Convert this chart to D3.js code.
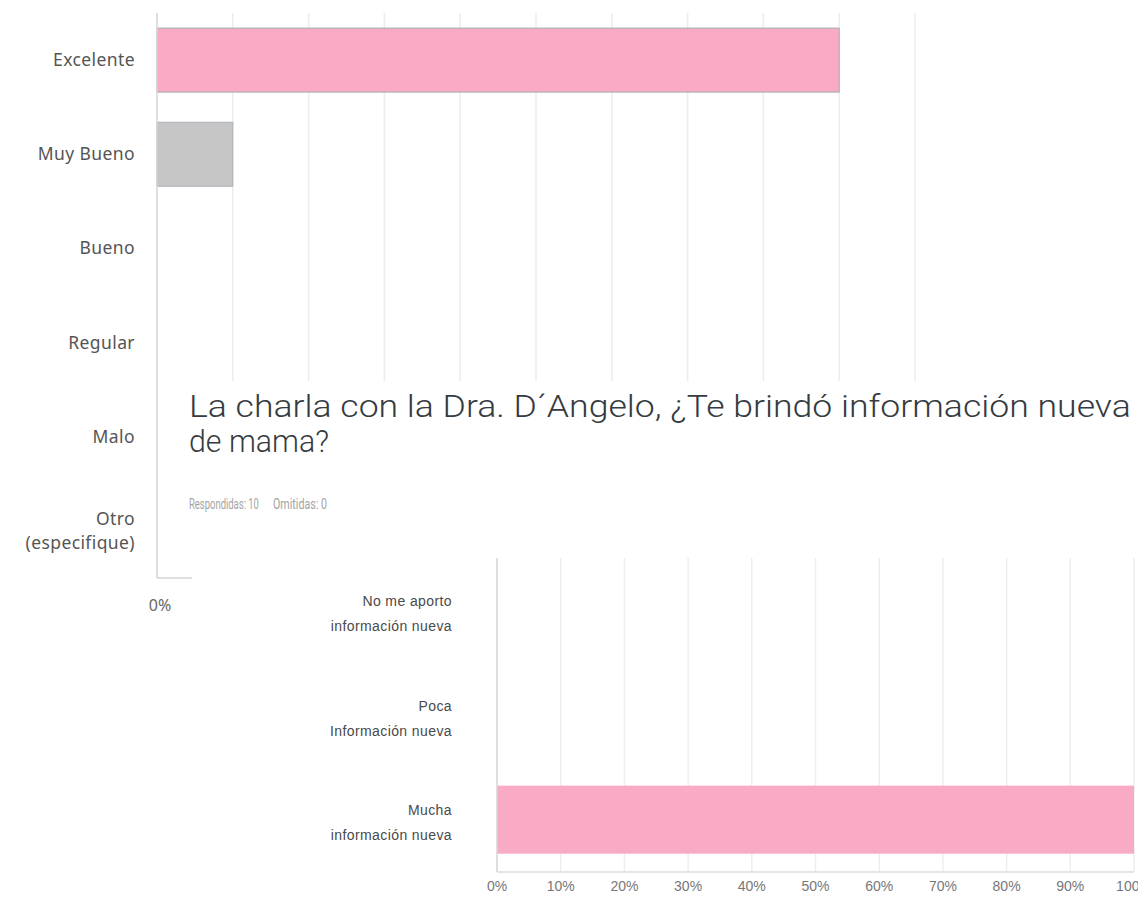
<!DOCTYPE html>
<html>
<head>
<meta charset="utf-8">
<script src="https://cdn.jsdelivr.net/npm/d3@7"></script>
<style>
  body { margin: 0; background: #fff; }
  svg { display: block; }
</style>
</head>
<body>
<svg id="chart" width="1138" height="904"></svg>
<script>
// first survey question (background screenshot)
const topCategories = ["Excelente", "Muy Bueno", "Bueno", "Regular", "Malo", "Otro\n(especifique)"];
const topValues = [90, 10, 0, 0, 0, 0];
const topColors = ["#f9aac5", "#c6c6c6", "#f9aac5", "#f9aac5", "#f9aac5", "#f9aac5"];
const topTicks = [0, 10, 20, 30, 40, 50, 60, 70, 80, 90, 100];

// second survey question (overlay screenshot)
const titleLines = ["La charla con la Dra. D\u00b4Angelo, \u00bfTe brind\u00f3 informaci\u00f3n nueva", "de mama?"];
const answered = "Respondidas: 10";
const skipped = "Omitidas: 0";
const bottomCategories = ["No me aporto\ninformaci\u00f3n nueva", "Poca\nInformaci\u00f3n nueva", "Mucha\ninformaci\u00f3n nueva"];
const bottomValues = [0, 0, 100];
const bottomTicks = [0, 10, 20, 30, 40, 50, 60, 70, 80, 90, 100];

const pct = d => d + "%";
const svg = d3.select("#chart");

// squeeze a text horizontally so it is as wide as the screenshot's condensed font
function condense(sel, x, y, width) {
	let w = sel.node().getComputedTextLength();
	sel.attr("transform", "translate(" + x + "," + y + ") scale(" + (width / w) + ",1)");
}

// ---------- top chart ----------
let xTop = d3.scaleLinear().domain([0, 100]).range([157, 915]);
let yTop = d3.scaleBand().domain(topCategories).range([13, 578])
	.paddingInner(0.32).paddingOuter(0.16);

let gTop = svg.append("g");

gTop.selectAll("line.grid")
	.data(topTicks.slice(1))
	.enter().append("line")
	.attr("class", "grid")
	.attr("x1", d => xTop(d)).attr("x2", d => xTop(d))
	.attr("y1", 13).attr("y2", 578)
	.attr("stroke", "#ececec").attr("stroke-width", 1.5);

gTop.selectAll("rect")
	.data(topValues)
	.enter().append("rect")
	.attr("x", xTop(0))
	.attr("y", (d, i) => yTop(topCategories[i]))
	.attr("height", yTop.bandwidth())
	.attr("width", d => xTop(d) - xTop(0))
	.attr("fill", (d, i) => topColors[i])
	.attr("stroke", (d, i) => i == 0 ? "#9fb0b0" : "#a9b2b8")
	.attr("stroke-width", d => d > 0 ? 1 : 0);

// axis lines
gTop.append("line")
	.attr("x1", xTop(0)).attr("x2", xTop(0))
	.attr("y1", 13).attr("y2", 578)
	.attr("stroke", "#d6d6d6").attr("stroke-width", 1.5);
gTop.append("line")
	.attr("x1", xTop(0)).attr("x2", 200)
	.attr("y1", 578).attr("y2", 578)
	.attr("stroke", "#d6d6d6").attr("stroke-width", 1.5);

let topLabels = gTop.selectAll("text.cat")
	.data(topCategories)
	.enter().append("text")
	.attr("class", "cat")
	.attr("text-anchor", "end")
	.style("font-family", "'Noto Sans', sans-serif")
	.style("font-size", "17.5px")
	.style("letter-spacing", "0.4px")
	.style("fill", "#555");
topLabels.each(function(d) {
	let lines = d.split("\n");
	let cy = yTop(d) + yTop.bandwidth() / 2;
	let start = cy - (lines.length - 1) * 12;
	d3.select(this).selectAll("tspan")
		.data(lines)
		.enter().append("tspan")
		.attr("x", 135)
		.attr("y", (l, i) => start + i * 24 + 6)
		.text(l => l);
});

gTop.append("text")
	.attr("x", xTop(0) + 3)
	.attr("y", 611)
	.attr("text-anchor", "middle")
	.style("font-family", "'Noto Sans', sans-serif")
	.style("font-size", "16px")
	.style("fill", "#666")
	.text(pct(topTicks[0]));

// ---------- overlay panel ----------
svg.append("rect")
	.attr("x", 192).attr("y", 381)
	.attr("width", 1138 - 192).attr("height", 904 - 381)
	.attr("fill", "#fff");

let gBot = svg.append("g");

let titleY = [417, 452];
let titleW = [942, 140];
titleLines.forEach(function(line, i) {
	let t = gBot.append("text")
		.attr("class", "title")
		.style("font-family", "Roboto, sans-serif")
		.style("font-weight", 300)
		.style("font-size", "31px")
		.style("fill", "#353b40")
		.text(line);
	condense(t, 189, titleY[i], titleW[i]);
});

[[answered, 189, 70], [skipped, 273, 54]].forEach(function(s) {
	let t = gBot.append("text")
		.style("font-family", "Roboto, sans-serif")
		.style("font-size", "14px")
		.style("fill", "#a3a3a3")
		.text(s[0]);
	condense(t, s[1], 509, s[2]);
});

let xBot = d3.scaleLinear().domain([0, 100]).range([497, 1134]);
let yBot = d3.scaleBand().domain(bottomCategories).range([558, 872])
	.paddingInner(0.35).paddingOuter(0.175);

gBot.selectAll("line.grid")
	.data(bottomTicks.slice(1))
	.enter().append("line")
	.attr("class", "grid")
	.attr("x1", d => xBot(d)).attr("x2", d => xBot(d))
	.attr("y1", 558).attr("y2", 872)
	.attr("stroke", "#eeeeee").attr("stroke-width", 1.5);

gBot.selectAll("rect.bar")
	.data(bottomValues)
	.enter().append("rect")
	.attr("class", "bar")
	.attr("x", xBot(0))
	.attr("y", (d, i) => yBot(bottomCategories[i]))
	.attr("height", yBot.bandwidth())
	.attr("width", d => xBot(d) - xBot(0))
	.attr("fill", "#f9aac5");

gBot.append("line")
	.attr("x1", xBot(0)).attr("x2", xBot(0))
	.attr("y1", 558).attr("y2", 872)
	.attr("stroke", "#d4d4d4").attr("stroke-width", 1.5);
gBot.append("line")
	.attr("x1", xBot(0)).attr("x2", xBot(100))
	.attr("y1", 872).attr("y2", 872)
	.attr("stroke", "#dcdcdc").attr("stroke-width", 1.5);

let botLabels = gBot.selectAll("text.cat")
	.data(bottomCategories)
	.enter().append("text")
	.attr("class", "cat")
	.attr("text-anchor", "end")
	.style("font-family", "'Liberation Sans', Arial, sans-serif")
	.style("font-size", "14px")
	.style("letter-spacing", "0.4px")
	.style("fill", "#4a4a4a");
botLabels.each(function(d) {
	let lines = d.split("\n");
	let cy = yBot(d) + yBot.bandwidth() / 2 + 3;
	d3.select(this).selectAll("tspan")
		.data(lines)
		.enter().append("tspan")
		.attr("x", 452)
		.attr("y", (l, i) => cy + (i - 0.5) * 25 + 5)
		.text(l => l);
});

gBot.selectAll("text.tick")
	.data(bottomTicks)
	.enter().append("text")
	.attr("class", "tick")
	.attr("x", d => xBot(d))
	.attr("y", 891)
	.attr("text-anchor", "middle")
	.style("font-family", "'Liberation Sans', Arial, sans-serif")
	.style("font-size", "14px")
	.style("fill", "#777")
	.text(pct);
</script>
</body>
</html>
